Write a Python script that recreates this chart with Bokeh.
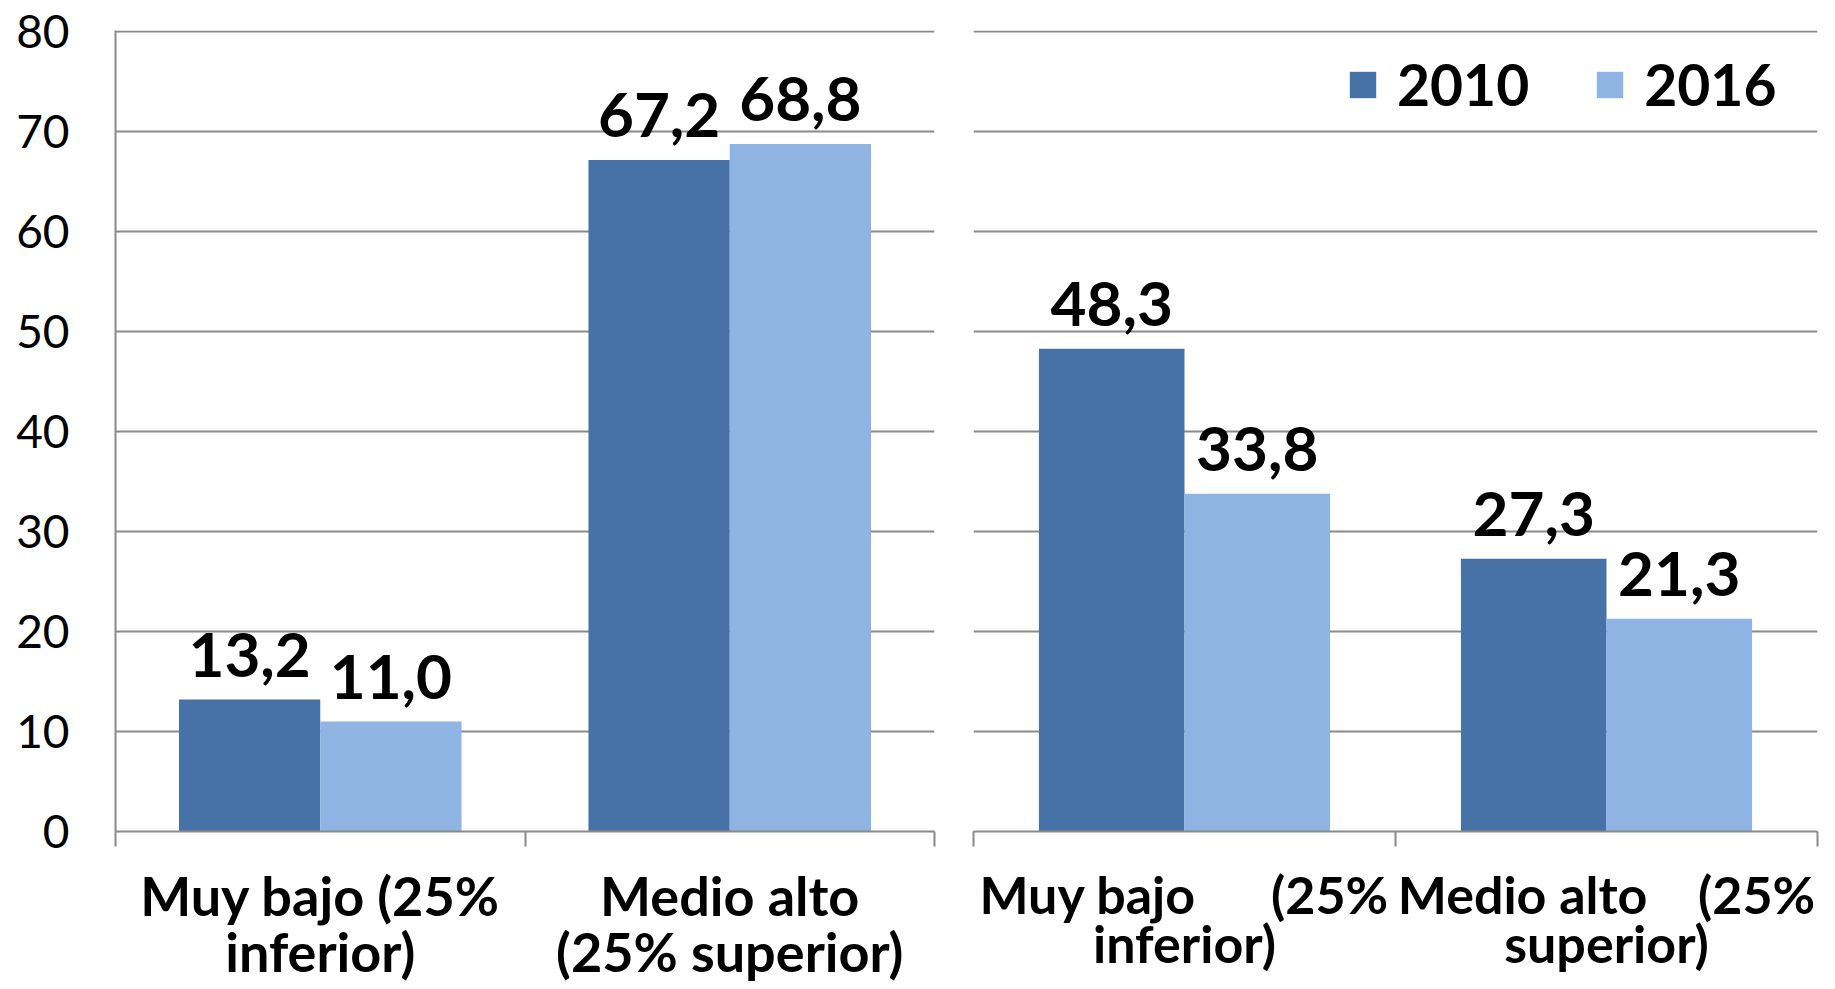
from bokeh.plotting import figure
from bokeh.models import (ColumnDataSource, Range1d, LinearAxis, FixedTicker, Grid, Legend, LegendItem)
from bokeh.layouts import row
from bokeh.core.properties import value
from bokeh.embed import file_html
from bokeh.resources import INLINE

# ---------------- data ----------------
categories = ["Muy bajo (25% inferior)", "Medio alto (25% superior)"]
years = ["2010", "2016"]
left_2010 = [13.2, 67.2]
left_2016 = [11.0, 68.8]
right_2010 = [48.3, 27.3]
right_2016 = [33.8, 21.3]
y_ticks = [0, 10, 20, 30, 40, 50, 60, 70, 80]
left_labels = ["Muy bajo (25%\ninferior)", "Medio alto\n(25% superior)"]
NB = "\u00a0"
right_labels = ["Muy bajo" + NB * 6 + "(25%\ninferior)", "Medio alto" + NB * 4 + "(25%\nsuperior)"]

DARK = "#4672A8"
LIGHT = "#8FB3E2"
GRID = "#8A8A8A"
FONT = "Lato"
BAR_W = 0.345


def fmt(vals):
    return [f"{v:.1f}".replace(".", ",") for v in vals]


def make_panel(v2010, v2016, labels, width, height, bl, br, bb, show_y, label_size,
               label_lh, label_standoff, with_legend):
    n = len(categories)
    centers = [i + 0.5 for i in range(n)]
    src = ColumnDataSource(dict(x1=[c - BAR_W / 2 for c in centers],
                                x2=[c + BAR_W / 2 for c in centers],
                                v2010=v2010, v2016=v2016,
                                t2010=fmt(v2010), t2016=fmt(v2016)))
    p = figure(x_range=Range1d(0, n), y_range=Range1d(0, 80.15),
               width=width, height=height, output_backend="svg", toolbar_location=None,
               x_axis_location=None, y_axis_location=None,
               min_border_left=bl, min_border_right=br, min_border_top=30, min_border_bottom=bb)
    p.outline_line_color = None
    p.background_fill_color = "white"
    p.border_fill_color = "white"
    # drop the default grids, keep only our own horizontal gridlines
    p.center = [r for r in p.center if not isinstance(r, Grid)]
    p.add_layout(Grid(dimension=1, ticker=FixedTicker(ticks=y_ticks),
                      grid_line_color=GRID, grid_line_width=2))

    if show_y:
        yax = LinearAxis(ticker=FixedTicker(ticks=y_ticks), major_tick_out=0, major_tick_in=0,
                         minor_tick_line_color=None, axis_line_color=GRID, axis_line_width=2,
                         major_label_standoff=46, major_label_text_font=FONT,
                         major_label_text_font_size="46px", major_label_text_color="black")
        p.add_layout(yax, "left")

    # category separator ticks
    sep = LinearAxis(ticker=FixedTicker(ticks=list(range(n + 1))),
                     major_tick_out=15, major_tick_in=0, major_tick_line_color=GRID,
                     major_tick_line_width=2, minor_tick_line_color=None,
                     axis_line_color=GRID, axis_line_width=2,
                     major_label_text_font_size="1px", major_label_text_alpha=0,
                     major_label_standoff=0)
    p.add_layout(sep, "below")

    # category labels
    cax = LinearAxis(ticker=FixedTicker(ticks=centers),
                     major_label_overrides={c: lab for c, lab in zip(centers, labels)},
                     axis_line_color=None, major_tick_line_color=None,
                     minor_tick_line_color=None, major_label_standoff=label_standoff,
                     major_label_text_font=FONT, major_label_text_font_style="bold",
                     major_label_text_font_size=label_size, major_label_text_color="black",
                     major_label_text_line_height=label_lh)
    p.add_layout(cax, "below")

    r1 = p.vbar(x="x1", top="v2010", width=BAR_W, source=src, fill_color=DARK, line_color=None)
    r2 = p.vbar(x="x2", top="v2016", width=BAR_W, source=src, fill_color=LIGHT, line_color=None)
    for col, xc in (("2010", "x1"), ("2016", "x2")):
        p.text(x=xc, y="v" + col, text="t" + col, source=src,
               text_align="center", text_baseline="alphabetic", y_offset=-45,
               text_font=value(FONT), text_font_style="bold", text_font_size="62px",
               text_color="black")

    if with_legend:
        leg = Legend(items=[LegendItem(label=years[0], renderers=[r1]),
                            LegendItem(label=years[1], renderers=[r2])],
                     orientation="horizontal", location=(373, 713),
                     glyph_width=33, glyph_height=33, label_standoff=18, spacing=64,
                     padding=0, margin=0, border_line_color=None, background_fill_alpha=0,
                     label_text_font=FONT, label_text_font_style="bold",
                     label_text_font_size="57px", label_text_color="black")
        p.add_layout(leg)
    return p


p1 = make_panel(left_2010, left_2016, left_labels, 945, 989, 115, 11, 156, True, "54px",
                0.87, 10, False)
p2 = make_panel(right_2010, right_2016, right_labels, 890, 989, 28, 18, 158, False, "52px",
                0.80, 10, True)

layout = row(p1, p2, spacing=0)
open("out.html", "w").write(file_html(layout, INLINE))
